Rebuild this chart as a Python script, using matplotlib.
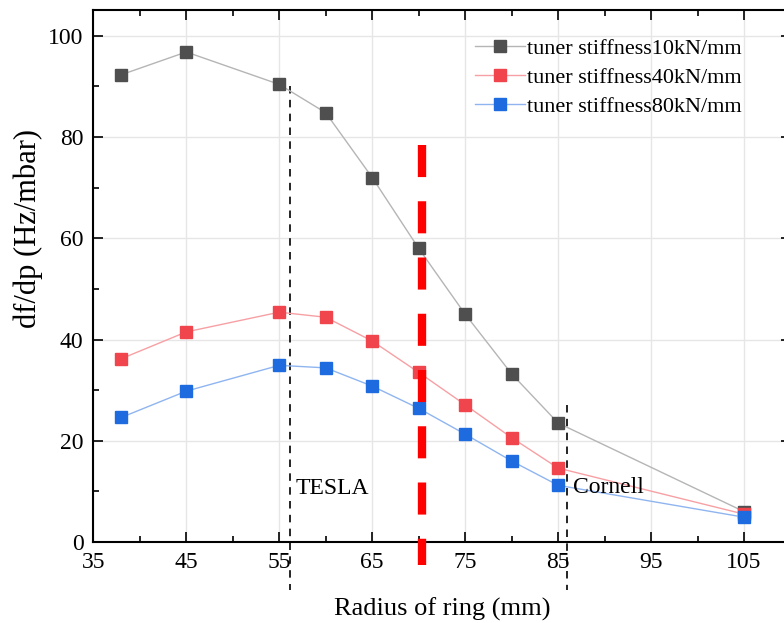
import matplotlib.pyplot as plt
from matplotlib.ticker import MultipleLocator

plt.rcParams['font.family'] = ['Liberation Serif', 'DejaVu Serif']

radius = [38, 45, 55, 60, 65, 70, 75, 80, 85, 105]
k10 = [92.3, 96.8, 90.4, 84.8, 72.0, 58.0, 45.0, 33.2, 23.5, 6.0]
k40 = [36.2, 41.5, 45.4, 44.4, 39.7, 33.5, 27.1, 20.6, 14.6, 5.5]
k80 = [24.6, 29.8, 34.9, 34.4, 30.8, 26.4, 21.3, 16.0, 11.2, 4.9]
labels = ['tuner stiffness10kN/mm', 'tuner stiffness40kN/mm', 'tuner stiffness80kN/mm']

fig = plt.figure(figsize=(7.84, 6.23), dpi=100)
# axes box runs a few pixels past the right edge of the picture
ax = fig.add_axes([0.119, 0.130, 0.890, 0.854])

series = [
    (k10, '#4f4f4f', '#b5b5b5'),
    (k40, '#f0454c', '#f7a0a4'),
    (k80, '#1e6be0', '#8fb5f0'),
]
for (vals, mc, lc), lab in zip(series, labels):
    ax.plot(radius, vals, color=lc, lw=1.0, marker='s', ms=9,
            mfc=mc, mec=mc, label=lab, zorder=3)

# reference lines
ax.plot([56.2, 56.2], [90.0, -9.5], color='black', ls=(0, (4.5, 3.8)), lw=1.2, clip_on=False)
ax.plot([85.9, 85.9], [27.0, -9.5], color='black', ls=(0, (4.5, 3.8)), lw=1.2, clip_on=False)
ax.plot([70.4, 70.4], [78.5, -4.5], color='#ff0000', ls=(0, (3.85, 2.9)), lw=6, clip_on=False, zorder=4)
ax.text(56.8, 10.5, 'TESLA', fontsize=17, va='center')
ax.text(86.6, 10.8, 'Cornell', fontsize=17, va='center')

ax.set_xlim(35, 110.05)
ax.set_ylim(0, 105.1)
ax.set_xticks([35, 45, 55, 65, 75, 85, 95, 105])
ax.xaxis.set_minor_locator(MultipleLocator(5))
ax.yaxis.set_major_locator(MultipleLocator(20))
ax.yaxis.set_minor_locator(MultipleLocator(10))
ax.tick_params(which='both', direction='in', width=1.2, top=True, right=True)
ax.tick_params(which='major', length=7)
ax.tick_params(which='minor', length=4)
ax.tick_params(axis='x', labelsize=17, pad=7)
ax.tick_params(axis='y', labelsize=17, pad=7)
ax.grid(True, which='major', color='#e6e6e6', lw=1.0)
ax.set_axisbelow(True)
for s in ax.spines.values():
    s.set_linewidth(1.5)

ax.set_xlabel('Radius of ring (mm)', fontsize=19, labelpad=18)
ax.set_ylabel('df/dp (Hz/mbar)', fontsize=22)
ax.yaxis.set_label_coords(-0.072, 0.59)

ax.legend(loc='upper right', bbox_to_anchor=(0.958, 0.985), frameon=False, fontsize=16,
          handlelength=2.25, handletextpad=0.1, labelspacing=0.38)

fig.savefig('out.png', dpi=100)
